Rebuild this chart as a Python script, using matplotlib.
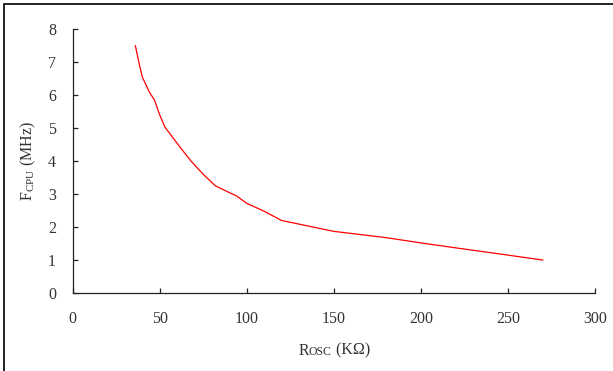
import matplotlib
matplotlib.use("Agg")
import matplotlib.pyplot as plt
from matplotlib.offsetbox import TextArea, HPacker, AnchoredOffsetbox
from matplotlib.patches import Rectangle

r_osc = [36, 38, 40, 44, 47, 50, 53, 56, 62, 68, 75, 82, 91, 94, 100, 110, 120, 150, 180, 200, 220, 250, 270]
f_cpu = [7.5, 7.0, 6.55, 6.1, 5.85, 5.4, 5.03, 4.82, 4.4, 4.0, 3.6, 3.25, 3.02, 2.95, 2.72, 2.48, 2.2, 1.87, 1.68, 1.52, 1.37, 1.15, 1.0]
x_ticks = [0, 50, 100, 150, 200, 250, 300]
y_ticks = [0, 1, 2, 3, 4, 5, 6, 7, 8]

plt.rcParams['font.family'] = ['Liberation Serif', 'DejaVu Serif']
plt.rcParams['mathtext.fontset'] = 'custom'
plt.rcParams['mathtext.rm'] = 'Liberation Serif'

fig = plt.figure(figsize=(6.13, 3.71), dpi=100)
ax = fig.add_axes([0.1186, 0.2102, 0.852, 0.7108])

ax.plot(r_osc, f_cpu, color='#ff0000', linewidth=0.9)
ax.set_xlim(0, 300)
ax.set_ylim(0, 8)
ax.set_xticks(x_ticks)
ax.set_yticks(y_ticks)
for s in ['top', 'right']:
    ax.spines[s].set_visible(False)
for s in ['left', 'bottom']:
    ax.spines[s].set_linewidth(0.9)
    ax.spines[s].set_color('#222222')
ax.tick_params(axis='both', direction='in', length=3.5, width=0.9, colors='#222222', labelsize=11.5)
ax.tick_params(axis='x', pad=13)
ax.tick_params(axis='y', pad=12)
for lab in ax.get_xticklabels() + ax.get_yticklabels():
    lab.set_color('#333333')

# y label
fig.text(0.047, 0.565, r'F$_{\mathregular{CPU}}$ (MHz)', rotation=90, ha='center', va='center',
         fontsize=11.5, color='#333333')

# x label with small-caps style OSC
parts = [TextArea('R', textprops=dict(fontsize=11.5, color='#333333')),
         TextArea('OSC', textprops=dict(fontsize=8.5, color='#333333')),
         TextArea(' (K\u03a9)', textprops=dict(fontsize=11.5, color='#333333'))]
box = HPacker(children=parts, align='baseline', pad=0, sep=0)
anch = AnchoredOffsetbox(loc='center', child=box, pad=0, frameon=False,
                         bbox_to_anchor=(0.545, 0.055), bbox_transform=fig.transFigure, borderpad=0)
fig.add_artist(anch)

# figure frame (top and left visible)
fig.add_artist(Rectangle((0.007, -0.05), 1.2, 1.039, transform=fig.transFigure,
                         fill=False, edgecolor='black', linewidth=1.2))

fig.savefig('out.png', dpi=100)
